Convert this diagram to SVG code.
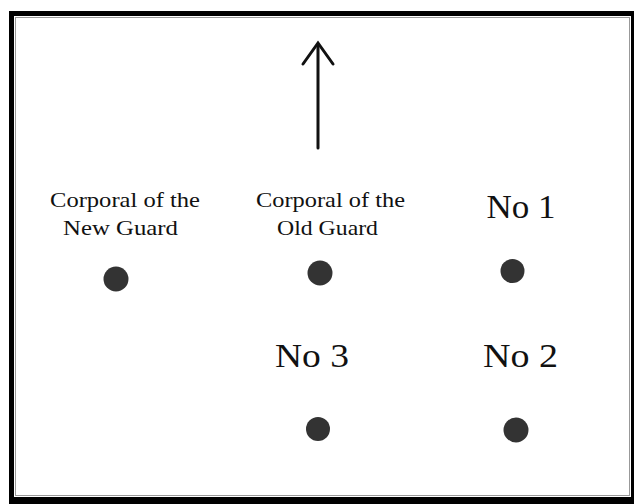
<svg xmlns="http://www.w3.org/2000/svg" width="634" height="504" viewBox="0 0 634 504">
  <style>
    .lbl { font-family: "Liberation Serif", "Times New Roman", serif; fill: #111; }
    .small { font-size: 22px; }
    .big { font-size: 34px; }
    .dot { fill: #333; }
    .conn { stroke: #111; stroke-width: 3; fill: none; stroke-linecap: round; stroke-linejoin: miter; }
  </style>
  <rect x="0" y="0" width="634" height="504" fill="#fff"/>
  <g id="frame">
    <rect x="9" y="11" width="625" height="493" fill="#000"/>
    <rect x="14" y="16" width="617" height="481" fill="#fff"/>
    <rect x="15.5" y="17.5" width="614" height="478" fill="none" stroke="#999" stroke-width="1"/>
  </g>
  <g id="connectors">
    <line class="conn" x1="318" y1="148" x2="318" y2="44"/>
    <polyline class="conn" points="303,64 318,43 333,64"/>
  </g>
  <g id="corporal-new-guard">
    <text class="lbl small" x="125" y="207" text-anchor="middle" textLength="150" lengthAdjust="spacingAndGlyphs">Corporal of the</text>
    <text class="lbl small" x="120.5" y="235" text-anchor="middle" textLength="115" lengthAdjust="spacingAndGlyphs">New Guard</text>
    <circle class="dot" cx="116" cy="279" r="12.5"/>
  </g>
  <g id="corporal-old-guard">
    <text class="lbl small" x="330.5" y="207" text-anchor="middle" textLength="149" lengthAdjust="spacingAndGlyphs">Corporal of the</text>
    <text class="lbl small" x="327.5" y="235" text-anchor="middle" textLength="101" lengthAdjust="spacingAndGlyphs">Old Guard</text>
    <circle class="dot" cx="320" cy="273" r="12.5"/>
  </g>
  <g id="no1">
    <text class="lbl big" x="521" y="218" text-anchor="middle" textLength="69" lengthAdjust="spacingAndGlyphs">No 1</text>
    <circle class="dot" cx="512.5" cy="271" r="12"/>
  </g>
  <g id="no3">
    <text class="lbl big" x="312" y="367" text-anchor="middle" textLength="74" lengthAdjust="spacingAndGlyphs">No 3</text>
    <circle class="dot" cx="318" cy="429" r="12"/>
  </g>
  <g id="no2">
    <text class="lbl big" x="520.5" y="367" text-anchor="middle" textLength="75" lengthAdjust="spacingAndGlyphs">No 2</text>
    <circle class="dot" cx="516" cy="430" r="12.5"/>
  </g>
</svg>
